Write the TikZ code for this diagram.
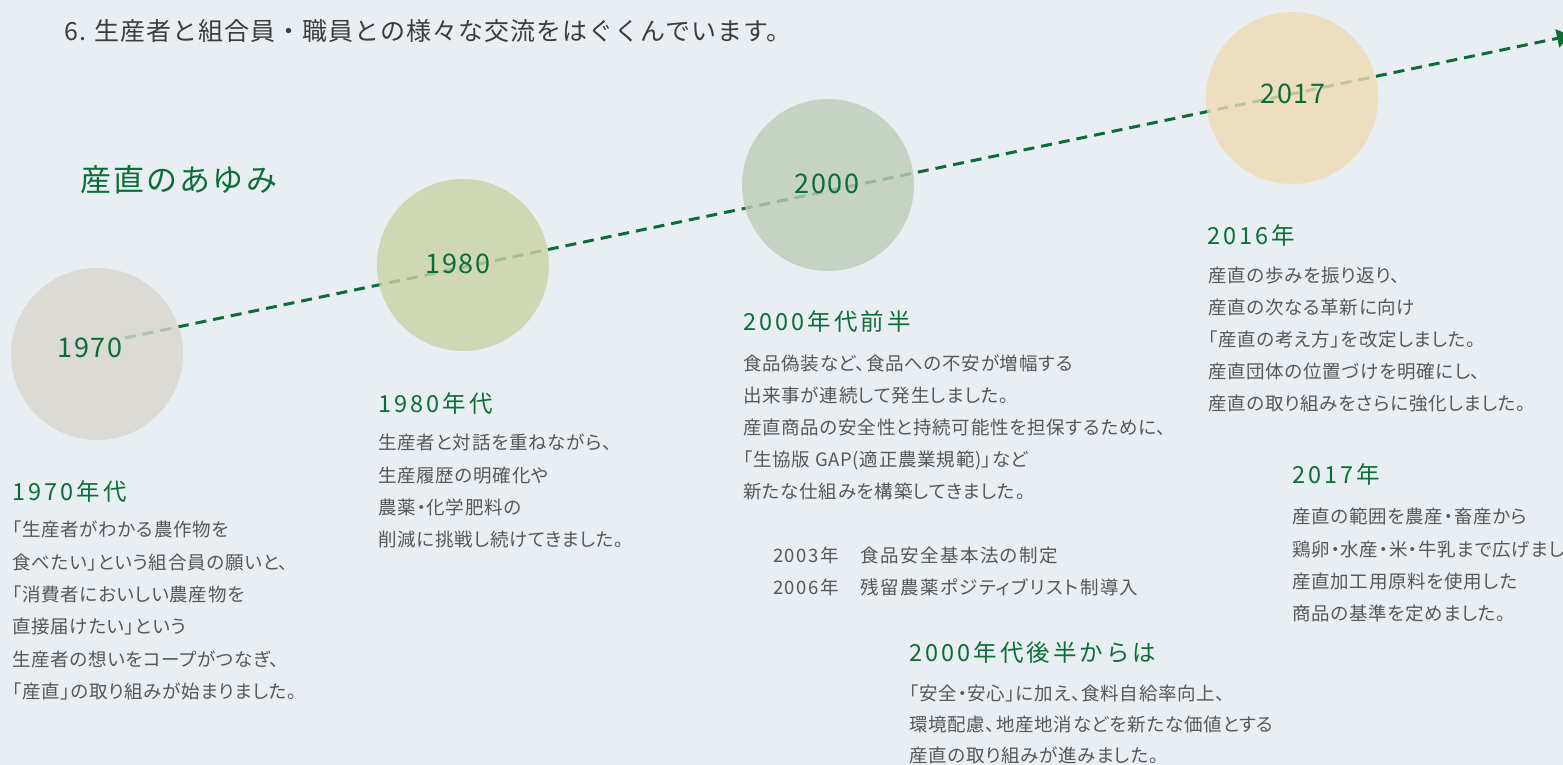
\documentclass[tikz,border=0pt]{standalone}
\usepackage{fontspec}
\usepackage{xcolor}
\usetikzlibrary{arrows.meta}
\setmainfont{Noto Sans CJK JP}
\newfontfamily\titlefont[LetterSpace=4]{Noto Sans CJK JP}
\newfontfamily\ayumifont[LetterSpace=7]{Noto Sans CJK JP}
\newfontfamily\erafont[LetterSpace=13]{Noto Sans CJK JP}
\newfontfamily\yearfont[LetterSpace=7]{Noto Sans CJK JP}
\newfontfamily\storyfont[CharacterWidth=AlternateProportional,LetterSpace=4]{Noto Sans CJK JP}
\newfontfamily\lawfont[CharacterWidth=AlternateProportional,LetterSpace=8]{Noto Sans CJK JP}
\definecolor{sanchoku}{HTML}{0B6E39}
\definecolor{bodygray}{HTML}{575757}
\definecolor{titlegray}{HTML}{3C3C3C}
\definecolor{paper}{HTML}{E9EEF3}
\definecolor{c1970}{HTML}{D9D6CE}
\definecolor{c1980}{HTML}{C9D2A6}
\definecolor{c2000}{HTML}{BDCBB9}
\definecolor{c2017}{HTML}{EDDBB2}

\begin{document}
\begin{tikzpicture}[x=1pt,y=-1pt,
		timeline/.style={draw=sanchoku,line width=3pt,dash pattern=on 11pt off 7pt,-{Triangle[length=14pt,width=18pt]}},
		disc/.style={circle,minimum size=172pt,inner sep=0pt,fill opacity=0.8},
		year/.style={inner sep=0pt,text=sanchoku,font=\yearfont\fontsize{27}{27}\selectfont},
		era/.style={anchor=west,inner sep=0pt,text=sanchoku,font=\erafont\fontsize{23.5}{23.5}\selectfont},
		story/.style={anchor=north west,inner sep=0pt,align=left,text=bodygray,font=\storyfont\fontsize{18.5}{32.3}\selectfont}]
	\useasboundingbox (0,0) rectangle (1563,765);
	\fill[paper] (0,0) rectangle (1563,765);
	\clip (0,0) rectangle (1563,765);

	\node[anchor=west,inner sep=0pt,text=titlegray,font=\titlefont\fontsize{25}{25}\selectfont] (title) at (64,31) {6. 生産者と組合員・職員との様々な交流をはぐくんでいます。};
	\node[anchor=west,inner sep=0pt,text=sanchoku,font=\ayumifont\fontsize{31}{31}\selectfont] (ayumi) at (80,180) {産直のあゆみ};

	\coordinate (from) at (125,338);
	\coordinate (tip) at (1571,35.5);
	\draw[timeline] (from) -- (tip);

	\foreach \yr/\cx/\cy/\lx/\ly in {1970/97/354/90/348,1980/463/265/458/264,2000/828/185/827/184,2017/1292/98/1293/94}{
		\node[disc,fill=c\yr] (d\yr) at (\cx,\cy) {};
		\node[year] (y\yr) at (\lx,\ly) {\yr};
	}

	\node[era] (e1970) at (12,492) {1970年代};
	\node[story] (s1970) at (12,521) {「生産者がわかる農作物を\\食べたい」という組合員の願いと、\\「消費者においしい農産物を\\直接届けたい」という\\生産者の想いをコープがつなぎ、\\「産直」の取り組みが始まりました。};

	\node[era] (e1980) at (378,404) {1980年代};
	\node[story] (s1980) at (378,434) {生産者と対話を重ねながら、\\生産履歴の明確化や\\農薬・化学肥料の\\削減に挑戦し続けてきました。};

	\node[era] (e2000) at (743,322) {2000年代前半};
	\node[story,font=\storyfont\fontsize{18.5}{31.8}\selectfont] (s2000) at (743,355) {食品偽装など、食品への不安が増幅する\\出来事が連続して発生しました。\\産直商品の安全性と持続可能性を担保するために、\\「生協版 GAP(適正農業規範)」など\\新たな仕組みを構築してきました。};
	\node[story,font=\lawfont\fontsize{18.5}{32}\selectfont] (laws) at (773,547) {2003年　食品安全基本法の制定\\2006年　残留農薬ポジティブリスト制導入};

	\node[era] (e2008) at (909,653) {2000年代後半からは};
	\node[story,font=\storyfont\fontsize{18.5}{31}\selectfont] (s2008) at (909,685) {「安全・安心」に加え、食料自給率向上、\\環境配慮、地産地消などを新たな価値とする\\産直の取り組みが進みました。};

	\node[era] (e2016) at (1207,236) {2016年};
	\node[story,font=\storyfont\fontsize{18.5}{32}\selectfont] (s2016) at (1208,267) {産直の歩みを振り返り、\\産直の次なる革新に向け\\「産直の考え方」を改定しました。\\産直団体の位置づけを明確にし、\\産直の取り組みをさらに強化しました。};

	\node[era] (e2017) at (1292,475) {2017年};
	\node[story] (s2017) at (1292,508) {産直の範囲を農産・畜産から\\鶏卵・水産・米・牛乳まで広げました。\\産直加工用原料を使用した\\商品の基準を定めました。};
\end{tikzpicture}
\end{document}
